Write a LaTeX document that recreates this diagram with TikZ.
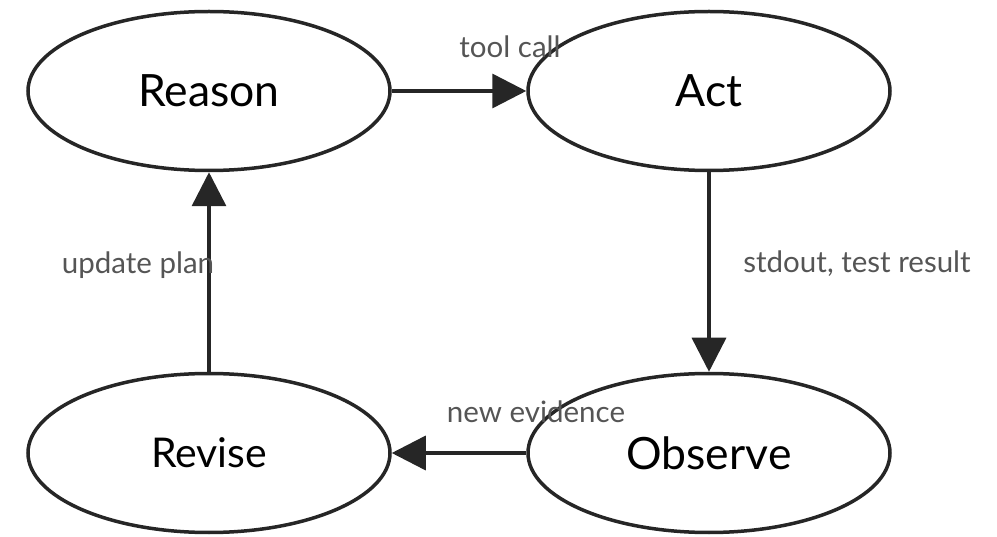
\documentclass[tikz,border=0pt]{standalone}
\usepackage{fontspec}
\setmainfont{Lato}
\usetikzlibrary{shapes.geometric,arrows.meta}
\definecolor{linegray}{HTML}{262626}
\definecolor{labelgray}{HTML}{555555}
\begin{document}
\begin{tikzpicture}[
    x=1pt, y=-1pt,
    every node/.style={align=center},
    state/.style={draw=linegray, ellipse, line width=3.5pt, minimum width=362pt, minimum height=159pt, inner sep=0pt, font=\fontsize{44.5}{50}\selectfont},
    edge label/.style={text=labelgray, font=\fontsize{29.5}{34}\selectfont, inner sep=0pt},
    flow arrow/.style={draw=linegray, line width=3.5pt, -{Triangle[length=34pt,width=34pt]}},
    ]
\useasboundingbox (0,0) rectangle (997,537);
\node[state] (Reason) at (209,91) {Reason};
\node[state] (Act) at (709,91) {Act};
\node[state] (Observe) at (709,453) {Observe};
\node[state, font=\fontsize{41}{46}\selectfont] (Revise) at (209,453) {Revise};
\draw[flow arrow] (Reason) -- (Act);
\draw[flow arrow] (Act) -- (Observe);
\draw[flow arrow] (Observe) -- (Revise);
\draw[flow arrow] (Revise) -- (Reason);
\node[edge label] (toolcall) at (510,47) {tool call};
\node[edge label] (stdout) at (857,264) {stdout, test result};
\node[edge label] (evidence) at (536,412) {new evidence};
\node[edge label] (plan) at (138,265) {update plan};
\end{tikzpicture}
\end{document}
